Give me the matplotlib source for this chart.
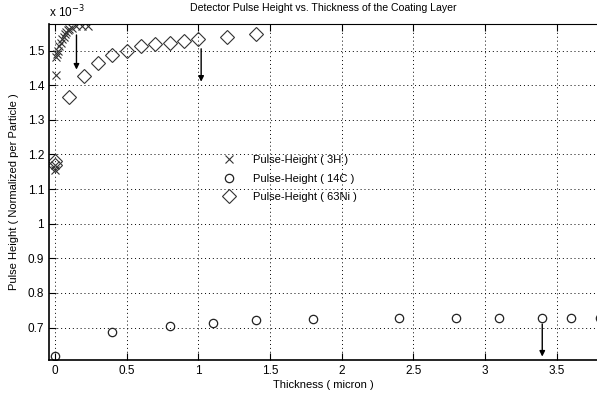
import numpy as np
import matplotlib
matplotlib.use("Agg")
import matplotlib.pyplot as plt

plt.rcParams['font.family'] = ['Liberation Sans', 'DejaVu Sans']

# values are in units of 1e-3
h3_x = [0, 0, 0.005, 0.01, 0.015, 0.02, 0.03, 0.04, 0.05, 0.06, 0.07, 0.08,
        0.09, 0.1, 0.12, 0.15, 0.19, 0.23]
h3_y = [1.155, 1.17, 1.429, 1.48, 1.49, 1.50, 1.512, 1.523, 1.533, 1.54, 1.547,
        1.553, 1.558, 1.562, 1.566, 1.571, 1.571, 1.571]

c14_x = [0, 0.4, 0.8, 1.1, 1.4, 1.8, 2.4, 2.8, 3.1, 3.4, 3.6, 3.8]
c14_y = [0.619, 0.688, 0.703, 0.714, 0.721, 0.725, 0.727, 0.728, 0.728, 0.728,
         0.728, 0.728]

ni63_x = [0, 0, 0.1, 0.2, 0.3, 0.4, 0.5, 0.6, 0.7, 0.8, 0.9, 1.0, 1.2, 1.4]
ni63_y = [1.18, 1.168, 1.365, 1.427, 1.464, 1.488, 1.50, 1.514, 1.519, 1.523,
          1.529, 1.533, 1.539, 1.547]

# arrows: (x, y_start, y_end)
arrows = [(0.15, 1.545, 1.445), (1.02, 1.505, 1.41), (3.4, 0.71, 0.616)]

x_ticks = [0, 0.5, 1, 1.5, 2, 2.5, 3, 3.5]
x_tick_labels = ["0", "0.5", "1", "1.5", "2", "2.5", "3", "3.5"]
y_ticks = [0.7, 0.8, 0.9, 1.0, 1.1, 1.2, 1.3, 1.4, 1.5]
y_tick_labels = ["0.7", "0.8", "0.9", "1", "1.1", "1.2", "1.3", "1.4", "1.5"]

fig = plt.figure(figsize=(5.97, 4.05), dpi=100)
ax = fig.add_axes([0.082, 0.111, 0.918, 0.830])

ax.plot(h3_x, h3_y, linestyle="none", marker="x", markersize=5.5, color="#333333",
        markeredgewidth=0.8, label="Pulse-Height ( 3H )")
ax.plot(c14_x, c14_y, linestyle="none", marker="o", markersize=6, markerfacecolor="none",
        markeredgecolor="#222222", markeredgewidth=0.9, label="Pulse-Height ( 14C )")
ax.plot(ni63_x, ni63_y, linestyle="none", marker="D", markersize=7, markerfacecolor="none",
        markeredgecolor="#333333", markeredgewidth=0.8, label="Pulse-Height ( 63Ni )")

for ax_x, y0, y1 in arrows:
    ax.annotate("", xy=(ax_x, y1), xytext=(ax_x, y0),
                arrowprops=dict(arrowstyle="-|>", color="black", lw=1.0,
                                mutation_scale=8, shrinkA=0, shrinkB=0))

ax.set_xlim(-0.042, 3.782)
ax.set_ylim(0.606, 1.577)
ax.set_xticks(x_ticks)
ax.set_xticklabels(x_tick_labels)
ax.set_yticks(y_ticks)
ax.set_yticklabels(y_tick_labels)
ax.tick_params(direction="in", length=5, labelsize=8.5, top=True, width=0.8)
ax.grid(True, linestyle=(0, (1, 3)), color="black", linewidth=0.7)
ax.spines["right"].set_visible(False)
for s in ["left", "bottom"]:
    ax.spines[s].set_linewidth(1.2)
ax.spines["top"].set_linewidth(0.8)

ax.set_title("Detector Pulse Height vs. Thickness of the Coating Layer", fontsize=7.6, pad=9)
ax.set_xlabel("Thickness ( micron )", fontsize=8, labelpad=2)
ax.set_ylabel("Pulse Height ( Normalized per Particle )", fontsize=8, labelpad=6)
ax.text(0.0, 1.012, r"x 10$^{-3}$", transform=ax.transAxes, fontsize=8.5, va="bottom")

ax.legend(loc="center left", bbox_to_anchor=(0.29, 0.54), frameon=False, fontsize=8,
          handletextpad=1.2, labelspacing=0.75)

plt.savefig("out.png", dpi=100)
